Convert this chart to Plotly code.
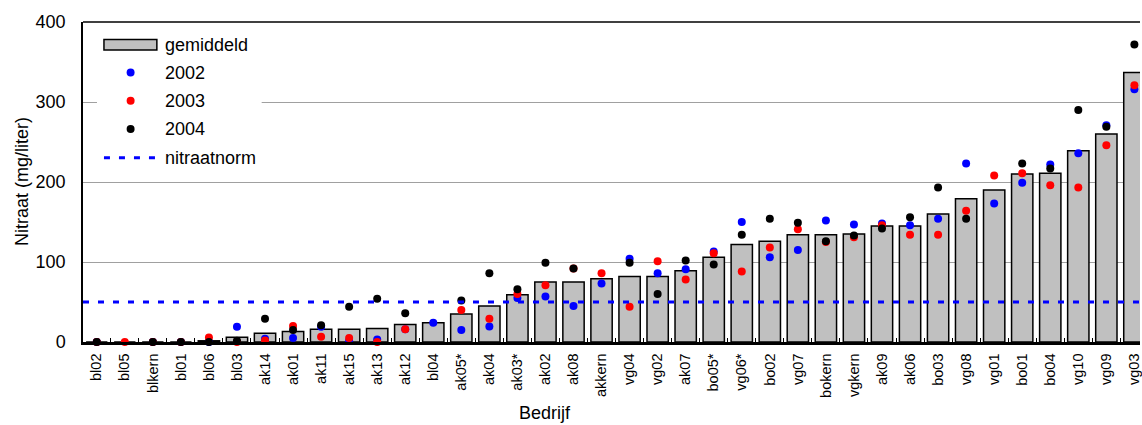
import plotly.graph_objects as go

# Nitrate concentration per farm (mg/liter)
categories = ["bl02", "bl05", "blkern", "bl01", "bl06", "bl03", "ak14", "ak01", "ak11",
              "ak15", "ak13", "ak12", "bl04", "ak05*", "ak04", "ak03*", "ak02", "ak08",
              "akkern", "vg04", "vg02", "ak07", "bo05*", "vg06*", "bo02", "vg07", "bokern",
              "vgkern", "ak09", "ak06", "bo03", "vg08", "vg01", "bo01", "bo04", "vg10",
              "vg09", "vg03"]

gemiddeld = [0, 0, 0, 0, 1.5, 6, 11, 13, 16, 16, 17, 22, 24, 35, 45, 59, 75, 75, 79, 82,
             82, 89, 106, 122, 126, 134, 134, 135, 145, 145, 160, 179, 190, 210, 211, 239,
             260, 337]

n2002 = [0, None, 0, 0, 0, 19, 4, 5, 19, 1.5, 3, 16, 24, 15, 19.5, 55, 57, 45, 73, 104,
         86, 91, 113, 150, 106, 115, 152, 147, 148, 146, 154, 223, 173, 199, 222, 236,
         271, 316]

n2003 = [0, 0, 0, 0, 5.5, 0, 2, 20, 6.5, 5, 0, 16, None, 40, 29, 60, 71, 92, 86, 44,
         101, 78, 111, 88, 118, 141, 125, 131, 146, 134, 134, 164, 208, 211, 196, 193,
         246, 321]

n2004 = [0, None, 0, 0, 0, 1.5, 29, 15, 21, 44, 54, 36, None, 52, 86, 66, 99, 92, None,
         99, 60, 102, 97, 134, 154, 149, 126, 133, 142, 156, 193, 154, None, 223, 217,
         290, 269, 372]

nitraatnorm = 50

W, H = 1142, 425
ML, MR, MT, MB = 83, 0, 22, 83
FONT = "Liberation Sans, Arial, sans-serif"


def px_x(px):
    return (px - ML) / (W - ML - MR)


def px_y(py):
    return (H - MB - py) / (H - MT - MB)


fig = go.Figure()

fig.add_trace(go.Bar(
    x=categories, y=gemiddeld, name="gemiddeld", width=0.76,
    marker=dict(color="#c0c0c0", line=dict(color="black", width=1.5)),
    showlegend=False,
))

# norm line across the full plot width on a hidden helper axis
fig.add_trace(go.Scatter(
    x=[0, 1], y=[nitraatnorm, nitraatnorm], xaxis="x2", mode="lines",
    line=dict(color="#0000ff", width=3, dash="6px,9px"), showlegend=False,
    hoverinfo="skip",
))

for vals, col, nm in [(n2002, "#0000ff", "2002"), (n2003, "#ff0000", "2003"),
                      (n2004, "#000000", "2004")]:
    fig.add_trace(go.Scatter(
        x=categories, y=vals, mode="markers", name=nm,
        marker=dict(color=col, size=8), cliponaxis=False, showlegend=False,
    ))

shapes = []
annotations = []

# top frame line
shapes.append(dict(type="line", xref="paper", yref="paper", x0=0, x1=1, y0=1, y1=1,
                   line=dict(color="black", width=1.5), layer="above"))

# legend box
shapes.append(dict(type="rect", xref="paper", yref="paper",
                   x0=px_x(97), x1=px_x(262), y0=px_y(170), y1=px_y(28),
                   fillcolor="white", line=dict(width=0), layer="above"))
shapes.append(dict(type="rect", xref="paper", yref="paper",
                   x0=px_x(104), x1=px_x(157), y0=px_y(50), y1=px_y(39.5),
                   fillcolor="#c0c0c0", line=dict(color="black", width=1.5), layer="above"))
for py, col in [(72.5, "#0000ff"), (100.7, "#ff0000"), (129, "#000000")]:
    r = 4
    shapes.append(dict(type="circle", xref="paper", yref="paper",
                       x0=px_x(130.7 - r), x1=px_x(130.7 + r),
                       y0=px_y(py + r), y1=px_y(py - r),
                       fillcolor=col, line=dict(width=0), layer="above"))
shapes.append(dict(type="line", xref="paper", yref="paper",
                   x0=px_x(104), x1=px_x(157), y0=px_y(157.7), y1=px_y(157.7),
                   line=dict(color="#0000ff", width=3, dash="6px,9px"), layer="above"))

for txt, py in [("gemiddeld", 45), ("2002", 72.5), ("2003", 100.7), ("2004", 129),
                ("nitraatnorm", 157.7)]:
    annotations.append(dict(text=txt, xref="paper", yref="paper", x=px_x(163), y=px_y(py),
                            xanchor="left", yanchor="middle", showarrow=False,
                            font=dict(family=FONT, size=18, color="black")))

# axis titles
annotations.append(dict(text="Bedrijf", xref="paper", yref="paper", x=px_x(546), y=px_y(413),
                        xanchor="center", yanchor="middle", showarrow=False,
                        font=dict(family=FONT, size=18, color="black")))
annotations.append(dict(text="Nitraat (mg/liter)", xref="paper", yref="paper", x=px_x(22),
                        y=0.5, xanchor="center", yanchor="middle", showarrow=False,
                        textangle=-90, font=dict(family=FONT, size=18, color="black")))

fig.update_layout(
    width=W, height=H,
    margin=dict(l=ML, r=MR, t=MT, b=MB, pad=0),
    paper_bgcolor="white", plot_bgcolor="white",
    font=dict(family=FONT, color="black"),
    bargap=0.24,
    shapes=shapes, annotations=annotations,
    xaxis=dict(
        type="category", range=[-0.49, 37.2], showgrid=False,
        showline=True, linecolor="black", linewidth=2.5,
        ticks="inside", ticklen=4, tickcolor="black", tickwidth=1,
        tickson="boundaries", tickangle=-90, ticklabelstandoff=3,
        tickfont=dict(family=FONT, size=14.5, color="black"),
    ),
    xaxis2=dict(overlaying="x", range=[0, 1], visible=False),
    yaxis=dict(
        range=[0, 400], tickvals=[0, 100, 200, 300, 400],
        showgrid=True, gridcolor="#a0a0a0", gridwidth=1.2, zeroline=False,
        showline=True, linecolor="black", linewidth=1.5,
        ticks="", ticklabelstandoff=12,
        tickfont=dict(family=FONT, size=18, color="black"),
    ),
)

fig.write_html("out.html")
